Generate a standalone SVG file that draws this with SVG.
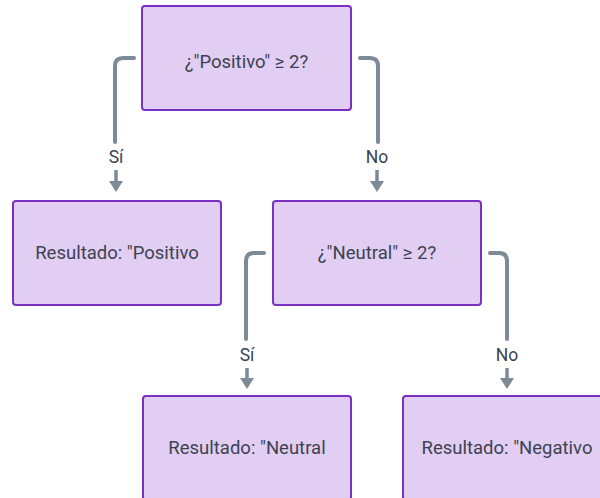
<svg xmlns="http://www.w3.org/2000/svg" width="600" height="498" viewBox="0 0 600 498">
  <style>
    .node rect { fill: #e2cdf3; stroke: #7a30c2; stroke-width: 2; }
    .node text { font-family: Roboto, "Liberation Sans", sans-serif; font-size: 18.5px; fill: #3b4350; text-anchor: middle; dominant-baseline: central; }
    .edge { fill: none; stroke: #7d8a97; stroke-width: 4; stroke-linecap: round; }
    .label { font-family: Roboto, "Liberation Sans", sans-serif; font-size: 17.5px; fill: #3b4350; text-anchor: middle; dominant-baseline: central; }
    .shaft { stroke: #7d8a97; stroke-width: 3.5; }
    .head { fill: #7d8a97; }
  </style>
  <rect width="600" height="498" fill="#ffffff"/>

  <g id="connectors">
    <!-- first decision: Sí branch -->
    <path class="edge" d="M134 58 H123 Q115 58 115 66 V142"/>
    <text class="label" x="116" y="157">Sí</text>
    <line class="shaft" x1="116" y1="170" x2="116" y2="182"/>
    <polygon class="head" points="109,181 123,181 116,192"/>
    <!-- first decision: No branch -->
    <path class="edge" d="M360 58 H370 Q378 58 378 66 V142"/>
    <text class="label" x="377" y="157">No</text>
    <line class="shaft" x1="377" y1="170" x2="377" y2="182"/>
    <polygon class="head" points="370,181 384,181 377,192"/>
    <!-- second decision: Sí branch -->
    <path class="edge" d="M264 253 H254 Q246 253 246 261 V339"/>
    <text class="label" x="247" y="355">Sí</text>
    <line class="shaft" x1="247" y1="368" x2="247" y2="379"/>
    <polygon class="head" points="240,378 254,378 247,389"/>
    <!-- second decision: No branch -->
    <path class="edge" d="M490 253 H499 Q507 253 507 261 V339"/>
    <text class="label" x="507" y="355">No</text>
    <line class="shaft" x1="507" y1="368" x2="507" y2="379"/>
    <polygon class="head" points="500,378 514,378 507,389"/>
  </g>

  <g id="q-positivo" class="node">
    <rect x="142" y="6" width="209" height="104" rx="3"/>
    <text x="246.5" y="62">¿"Positivo" ≥ 2?</text>
  </g>
  <g id="r-positivo" class="node">
    <rect x="13" y="201" width="208" height="104" rx="3"/>
    <text x="117" y="253">Resultado: "Positivo</text>
  </g>
  <g id="q-neutral" class="node">
    <rect x="273" y="201" width="208" height="104" rx="3"/>
    <text x="377" y="253">¿"Neutral" ≥ 2?</text>
  </g>
  <g id="r-neutral" class="node">
    <rect x="143" y="396" width="208" height="104" rx="3"/>
    <text x="247" y="448">Resultado: "Neutral</text>
  </g>
  <g id="r-negativo" class="node">
    <rect x="403" y="396" width="208" height="104" rx="3"/>
    <text x="507" y="448">Resultado: "Negativo</text>
  </g>
</svg>
